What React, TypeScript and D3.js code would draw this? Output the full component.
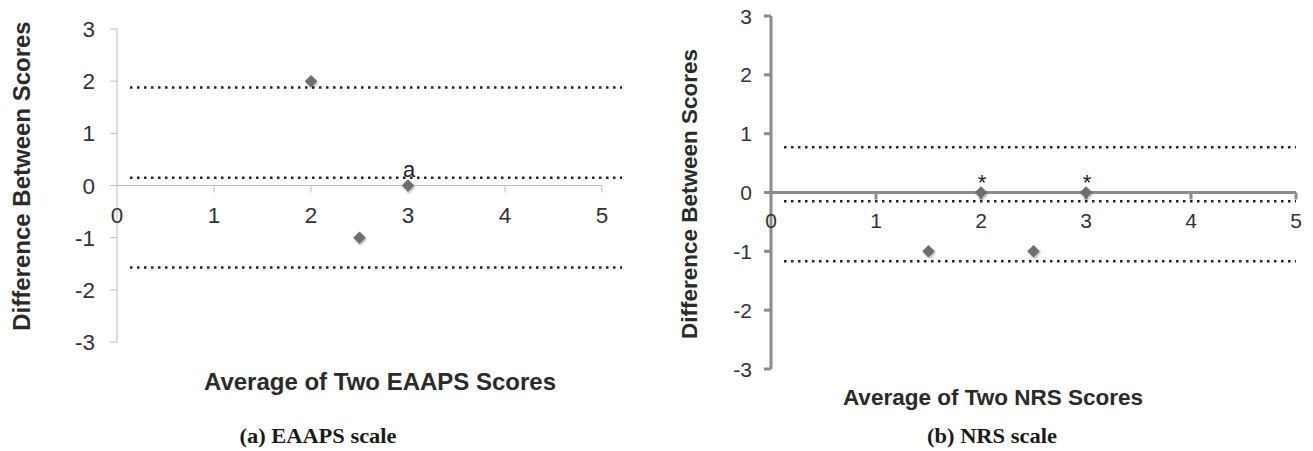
import { useEffect, useRef } from 'react'
import * as d3 from 'd3'

// panel (a) EAAPS
const eaapsAvg = [2, 2.5, 3]
const eaapsDiff = [2, -1, 0]
const eaapsMarks = ['', '', 'a']
const eaapsLimits = [1.88, 0.15, -1.57]

// panel (b) NRS
const nrsAvg = [1.5, 2, 2.5, 3]
const nrsDiff = [-1, 0, -1, 0]
const nrsMarks = ['', '*', '', '*']
const nrsLimits = [0.77, -0.15, -1.17]

const xTicks = [0, 1, 2, 3, 4, 5]
const yTicks = [-3, -2, -1, 0, 1, 2, 3]

interface Panel {
  avg: number[]
  diff: number[]
  marks: string[]
  limits: number[]
  xTitle: string
  caption: string
  x0: number; x5: number; yTop: number; yBot: number
  dotEnd: number
  axisColor: string; axisWidth: number
  yTitleX: number; yTitleY: number; yTitleSize: number
  xTitleX: number; xTitleY: number; xTitleSize: number
  captionX: number; captionLen: number
  tickSize: number; xLabelY: number; yLabelGap: number
  markOffset: number
}

const panels: Panel[] = [
  {
    avg: eaapsAvg, diff: eaapsDiff, marks: eaapsMarks, limits: eaapsLimits,
    xTitle: 'Average of Two EAAPS Scores', caption: '(a) EAAPS scale',
    x0: 117, x5: 602, yTop: 29, yBot: 342, dotEnd: 622,
    axisColor: '#bdbdbd', axisWidth: 1,
    yTitleX: 30, yTitleY: 176, yTitleSize: 24,
    xTitleX: 380, xTitleY: 390, xTitleSize: 24,
    captionX: 318, captionLen: 157,
    tickSize: 22.5, xLabelY: 223, yLabelGap: 22, markOffset: 9,
  },
  {
    avg: nrsAvg, diff: nrsDiff, marks: nrsMarks, limits: nrsLimits,
    xTitle: 'Average of Two NRS Scores', caption: '(b) NRS scale',
    x0: 771, x5: 1296, yTop: 16, yBot: 369, dotEnd: 1296,
    axisColor: '#8c8c8c', axisWidth: 3,
    yTitleX: 697, yTitleY: 194, yTitleSize: 22.5,
    xTitleX: 993, xTitleY: 405, xTitleSize: 22.5,
    captionX: 992, captionLen: 130,
    tickSize: 21, xLabelY: 228, yLabelGap: 19, markOffset: 3,
  },
]

export default function App() {
  const ref = useRef<SVGSVGElement>(null)

  useEffect(() => {
    if (!ref.current) return
    const svg = d3.select(ref.current)
    svg.selectAll('*').remove()

    const defs = svg.append('defs')
    defs.append('filter').attr('id', 'shadow')
      .attr('x', '-50%').attr('y', '-50%').attr('width', '200%').attr('height', '200%')
      .append('feDropShadow')
      .attr('dx', 1).attr('dy', 1.5).attr('stdDeviation', 1.3)
      .attr('flood-color', '#000').attr('flood-opacity', 0.3)

    const sans = 'Liberation Sans, Arial, sans-serif'

    panels.forEach(p => {
      const x = d3.scaleLinear().domain([0, 5]).range([p.x0, p.x5])
      const y = d3.scaleLinear().domain([-3, 3]).range([p.yBot, p.yTop])
      const g = svg.append('g')

      // y axis
      g.append('line')
        .attr('x1', x(0)).attr('x2', x(0)).attr('y1', y(3)).attr('y2', y(-3))
        .attr('stroke', p.axisColor).attr('stroke-width', p.axisWidth)
      g.selectAll('.ytick').data(yTicks).enter().append('line')
        .attr('x1', x(0) - 7).attr('x2', x(0)).attr('y1', d => y(d)).attr('y2', d => y(d))
        .attr('stroke', p.axisColor).attr('stroke-width', p.axisWidth)
      g.selectAll('.ylab').data(yTicks).enter().append('text')
        .attr('x', x(0) - p.yLabelGap).attr('y', d => y(d)).attr('dy', '0.36em')
        .attr('text-anchor', 'end')
        .style('font-family', sans)
        .style('font-size', `${p.tickSize}px`).style('fill', '#333')
        .text(d => d)

      // x axis at 0
      g.append('line')
        .attr('x1', x(0) - 7).attr('x2', x(5)).attr('y1', y(0)).attr('y2', y(0))
        .attr('stroke', p.axisColor).attr('stroke-width', p.axisWidth)
      g.selectAll('.xtick').data(xTicks.slice(1)).enter().append('line')
        .attr('x1', d => x(d)).attr('x2', d => x(d)).attr('y1', y(0)).attr('y2', y(0) + 7)
        .attr('stroke', p.axisColor).attr('stroke-width', p.axisWidth)
      g.selectAll('.xlab').data(xTicks).enter().append('text')
        .attr('x', d => x(d)).attr('y', p.xLabelY)
        .attr('text-anchor', 'middle')
        .style('font-family', sans)
        .style('font-size', `${p.tickSize}px`).style('fill', '#333')
        .text(d => d)

      // limits of agreement
      g.selectAll('.lim').data(p.limits).enter().append('line')
        .attr('x1', x(0) + 13).attr('x2', p.dotEnd).attr('y1', d => y(d)).attr('y2', d => y(d))
        .attr('stroke', '#222').attr('stroke-width', 2.5)
        .attr('stroke-dasharray', '2.5,4.5')

      // points
      const pts = p.avg.map((a, i) => ({ a, d: p.diff[i], m: p.marks[i] }))
      g.selectAll('.pt').data(pts).enter().append('path')
        .attr('d', d3.symbol().type(d3.symbolDiamond2).size(100)())
        .attr('transform', d => `translate(${x(d.a)},${y(d.d)})`)
        .attr('fill', '#6e6e6e')
        .attr('filter', 'url(#shadow)')
      g.selectAll('.mk').data(pts.filter(d => d.m)).enter().append('text')
        .attr('x', d => x(d.a) + 1).attr('y', d => y(d.d) - p.markOffset)
        .attr('text-anchor', 'middle')
        .style('font-family', sans)
        .style('font-size', '22px').style('fill', '#222')
        .text(d => d.m)

      // titles
      g.append('text')
        .attr('transform', `translate(${p.yTitleX},${p.yTitleY}) rotate(-90)`)
        .attr('text-anchor', 'middle')
        .style('font-family', sans)
        .style('font-weight', 'bold').style('font-size', `${p.yTitleSize}px`).style('fill', '#2a2a2a')
        .text('Difference Between Scores')
      g.append('text')
        .attr('x', p.xTitleX).attr('y', p.xTitleY)
        .attr('text-anchor', 'middle')
        .style('font-family', sans)
        .style('font-weight', 'bold').style('font-size', `${p.xTitleSize}px`).style('fill', '#2a2a2a')
        .text(p.xTitle)
      g.append('text')
        .attr('x', p.captionX).attr('y', 443)
        .attr('text-anchor', 'middle')
        .attr('textLength', p.captionLen).attr('lengthAdjust', 'spacingAndGlyphs')
        .style('font-family', 'Liberation Serif, serif')
        .style('font-weight', 'bold').style('font-size', '21px').style('fill', '#1a1a1a')
        .text(p.caption)
    })
  }, [])

  return (
    <svg ref={ref} width={1313} height={451}
      style={{ position: 'absolute', left: 0, top: 0, background: '#fff' }} />
  )
}
